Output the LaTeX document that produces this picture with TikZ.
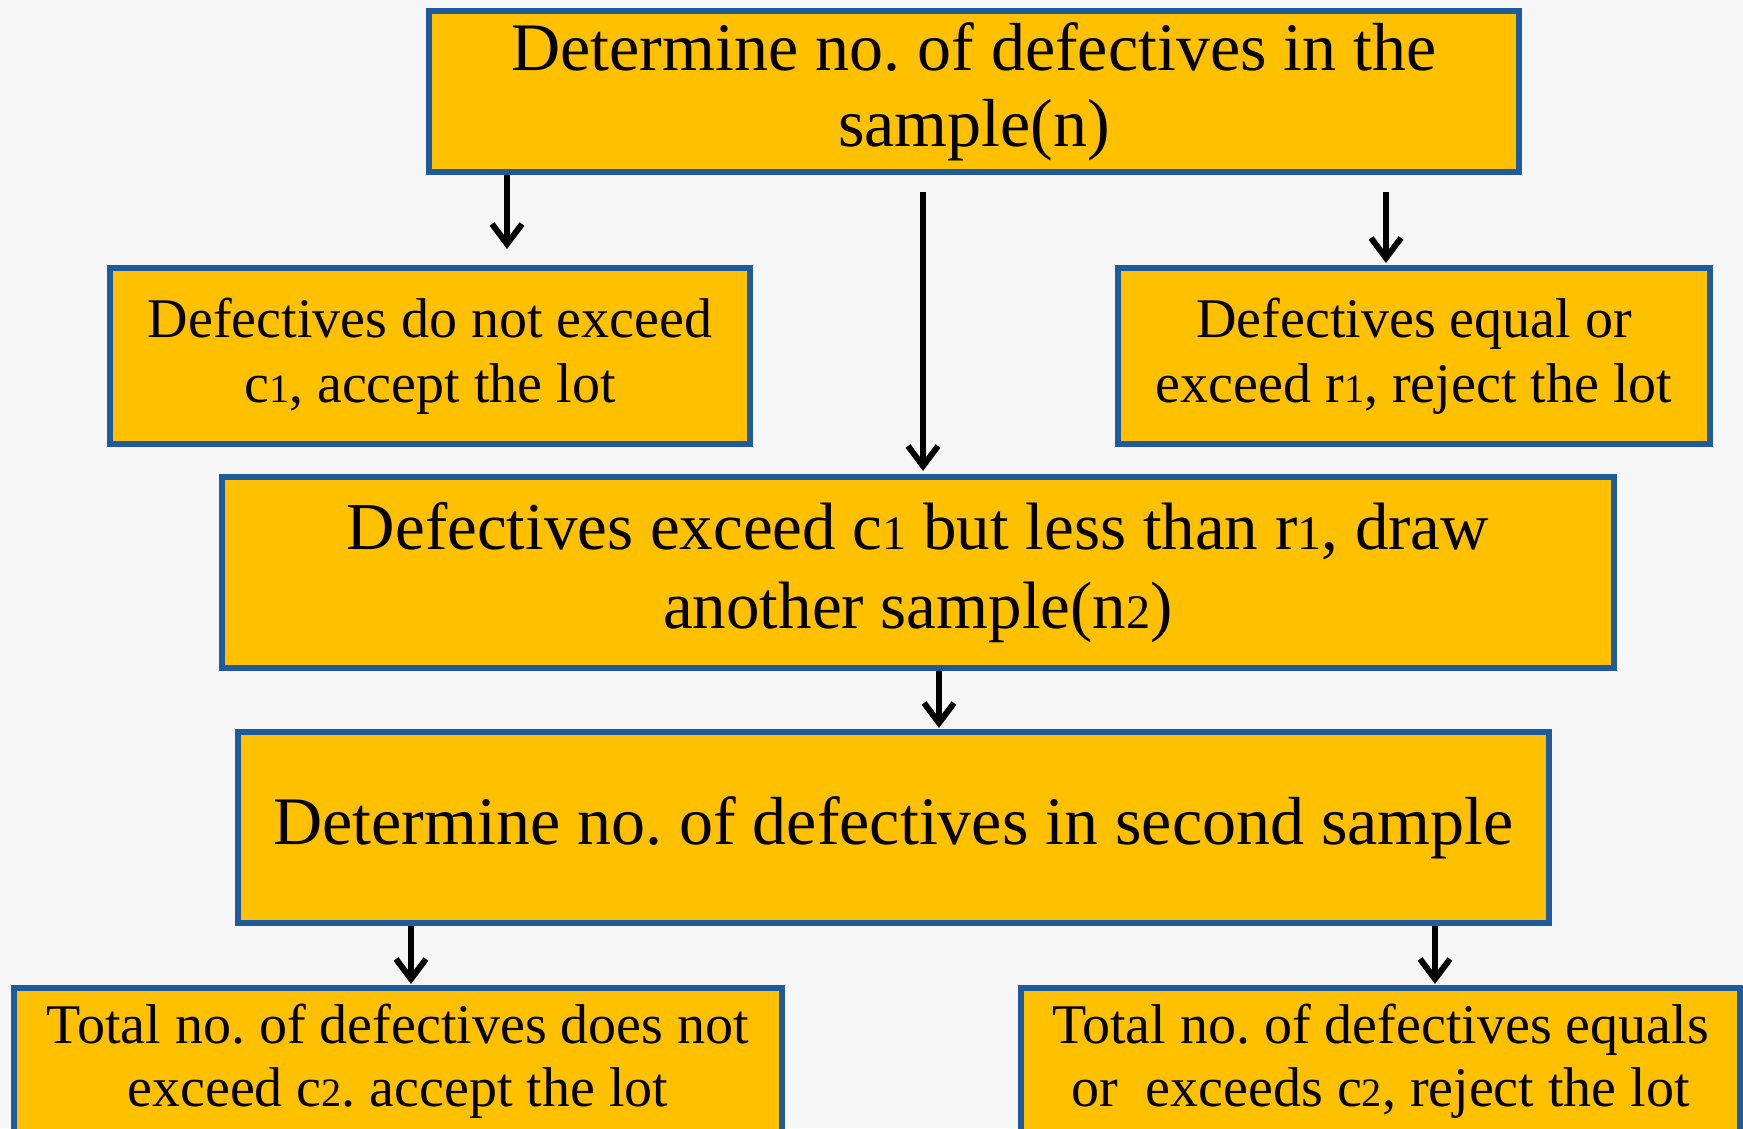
\documentclass[tikz,border=0pt]{standalone}
\usepackage{fontspec}
\setmainfont{Liberation Serif}
\usepackage{graphicx}
\usetikzlibrary{arrows.meta}
\definecolor{boxfill}{HTML}{FFC000}
\definecolor{boxline}{HTML}{1F5A9C}
\definecolor{bgcol}{HTML}{F6F6F6}
\newcommand\osd[1]{\scalebox{0.72}{#1}}
\frenchspacing
\begin{document}
\begin{tikzpicture}[x=1pt,y=-1pt,
  flowbox/.style={draw=boxline, fill=boxfill, line width=6pt, align=center,
    inner sep=0pt, anchor=north west, text=black},
  arr/.style={line width=6pt, -{Straight Barb[length=20pt,width=30pt]}}]
\fill[bgcol] (0,0) rectangle (1743,1128);
\useasboundingbox (0,0) rectangle (1743,1128);
\clip (0,0) rectangle (1743,1128);
\node[flowbox, minimum width=1090pt, minimum height=161pt,
  font=\fontsize{68}{76}\selectfont] (top) at (426,8)
  {Determine no. of defectives in the\\sample(n)};
\node[flowbox, minimum width=640pt, minimum height=176pt,
  font=\fontsize{56}{65}\selectfont] (acc) at (107,265)
  {Defectives do not exceed\\c\osd{1}, accept the lot};
\node[flowbox, minimum width=592pt, minimum height=176pt,
  font=\fontsize{56}{65}\selectfont] (rej) at (1115,265)
  {Defectives equal or\\exceed r\osd{1}, reject the lot};
\node[flowbox, minimum width=1392pt, minimum height=191pt,
  font=\fontsize{67}{79}\selectfont] (mid) at (219,474)
  {Defectives exceed c\osd{1} but less than r\osd{1}, draw\\another sample(n\osd{2})};
\node[flowbox, minimum width=1311pt, minimum height=191pt,
  font=\fontsize{68}{80}\selectfont] (sec) at (235,729)
  {Determine no. of defectives in second sample};
\node[flowbox, minimum width=768pt, minimum height=146pt,
  font=\fontsize{56}{63}\selectfont] (bl) at (11,985)
  {Total no. of defectives does not\\exceed c\osd{2}. accept the lot};
\node[flowbox, minimum width=719pt, minimum height=146pt,
  font=\fontsize{56}{63}\selectfont] (br) at (1018,985)
  {Total no. of defectives equals\\or\ \ exceeds c\osd{2}, reject the lot};
\coordinate (xa) at (507,0);
\coordinate (xb) at (923,0);
\coordinate (xc) at (1386,0);
\coordinate (xd) at (939,0);
\coordinate (xe) at (411,0);
\coordinate (xf) at (1435,0);
\draw[arr, shorten >=16pt] (top.south -| xa) -- (acc.north -| xa);
\draw[arr, shorten <=17pt, shorten >=3pt] (top.south -| xb) -- (mid.north -| xb);
\draw[arr, shorten <=17pt, shorten >=2pt] (top.south -| xc) -- (rej.north -| xc);
\draw[arr, shorten >=1pt] (mid.south -| xd) -- (sec.north -| xd);
\draw[arr, shorten >=1pt] (sec.south -| xe) -- (bl.north -| xe);
\draw[arr, shorten >=1pt] (sec.south -| xf) -- (br.north -| xf);
\end{tikzpicture}
\end{document}
